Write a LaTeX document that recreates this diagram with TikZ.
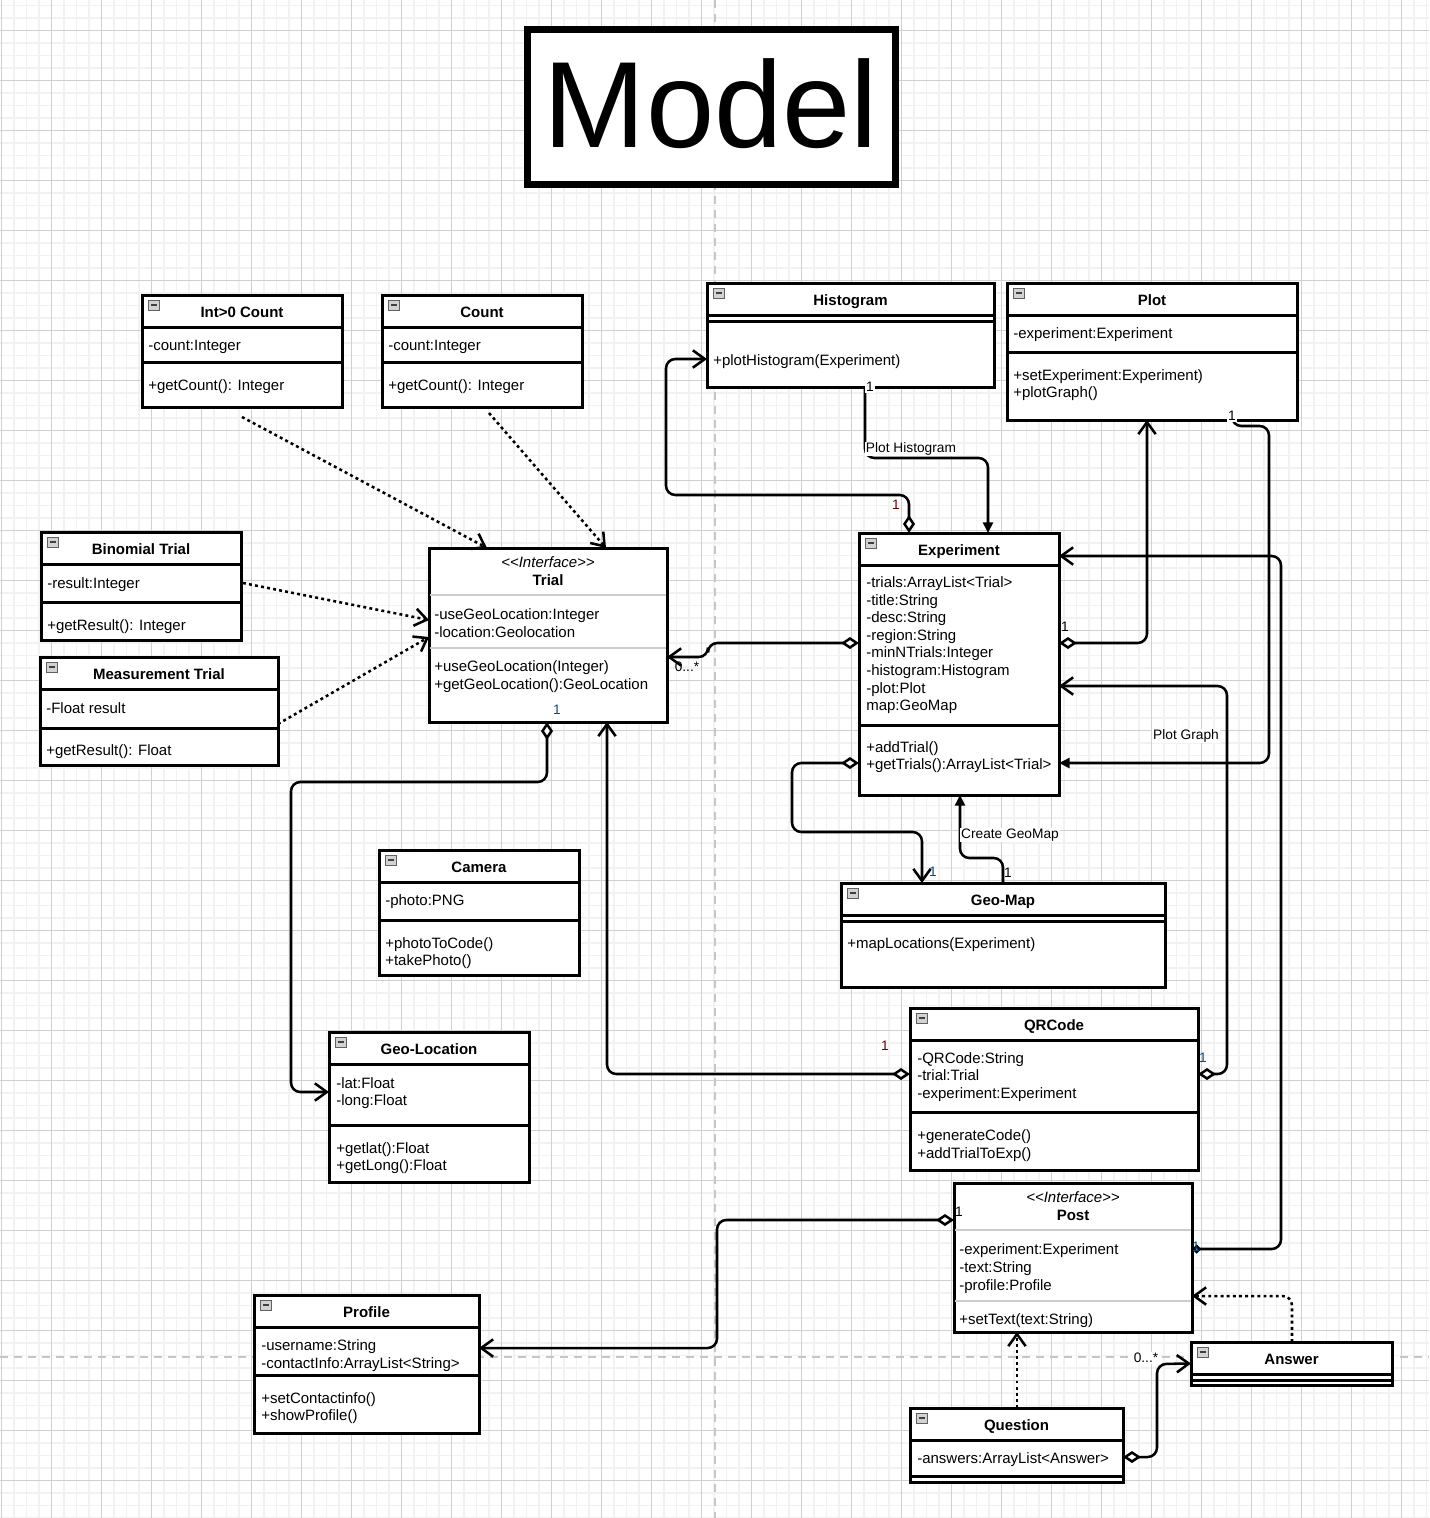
\documentclass[tikz,border=0pt]{standalone}
\usepackage{fontspec}
\setmainfont{Liberation Sans}
\usetikzlibrary{arrows.meta,calc}
\definecolor{lblue}{RGB}{0,75,140}
\definecolor{lmaroon}{RGB}{110,0,0}
\definecolor{gmin}{RGB}{242,242,242}
\definecolor{gmaj}{RGB}{208,208,208}
\newcommand\umlicon[2]{%
  \draw[draw=gray!75!black, fill=gray!35, line width=0.6pt] (#1+6,#2+5) rectangle ++(11,10);
  \draw[line width=1pt, black!75] (#1+8.5,#2+10) -- ++(6,0);}
\newcommand\umlclass[6]{%
  \node[umlbox, minimum width={(#4-#2)*0.75pt}, minimum height={(#5-#3)*0.75pt}] (#1) at ({(#2+#4)/2},{(#3+#5)/2}) {};
  \draw[boxline] (#2,#3+32) -- (#4,#3+32);
  \node[ttl] at ({(#2+#4)/2},#3+16) {#6};
  \umlicon{#2}{#3}}
\newcommand\umliface[6]{%
  \node[umlbox, minimum width={(#4-#2)*0.75pt}, minimum height={(#5-#3)*0.75pt}] (#1) at ({(#2+#4)/2},{(#3+#5)/2}) {};
  \node[tx, anchor=center, font=\itshape\fontsize{11.25}{13}\selectfont] at ({(#2+#4)/2},#3+13) {<{}<Interface>{}>};
  \node[ttl] at ({(#2+#4)/2},#3+31) {#6};}
\begin{document}
\begin{tikzpicture}[x=0.75pt,y=-0.75pt,
  umlbox/.style={draw, line width=2.25pt, fill=white, inner sep=0pt, outer sep=0pt},
  boxline/.style={line width=2.25pt},
  thinline/.style={line width=1.1pt, draw=gray!40},
  tx/.style={font=\fontsize{11.25}{13}\selectfont, inner sep=0pt, anchor=west, text height=11pt, text depth=2pt},
  ttl/.style={font=\bfseries\fontsize{11.25}{13}\selectfont, inner sep=0pt, text height=11pt, text depth=2pt},
  lbl/.style={font=\fontsize{10.3}{12}\selectfont, inner sep=0.8pt, fill=white},
  conn/.style={line width=1.9pt, rounded corners=7pt},
  dep/.style={line width=1.9pt, dash pattern=on 2.2pt off 2.4pt, arrows={-Straight Barb[length=9pt,width=13pt]}},
  assoc/.style={conn, arrows={-Straight Barb[length=9pt,width=13pt]}},
  aggr/.style={conn, arrows={Diamond[fill=white,length=13.5pt,width=9pt]-Straight Barb[length=9pt,width=13pt]}},
  filled/.style={conn, arrows={-Triangle[length=8pt,width=7.5pt]}},
  smallagg/.style={conn, arrows={Diamond[fill=white,length=7pt,width=7pt]-Straight Barb[length=9pt,width=13pt]}},
]
\useasboundingbox (0,0) rectangle (1429,1518);
\fill[white] (0,0) rectangle (1429,1518);
% grid
\foreach \i in {0,...,114} {\draw[gmin, line width=1.1pt] ({1.7+12.5*\i},0) -- ({1.7+12.5*\i},1518);}
\foreach \i in {0,...,121} {\draw[gmin, line width=1.1pt] (0,{5.7+12.5*\i}) -- (1429,{5.7+12.5*\i});}
\foreach \i in {0,...,28} {\draw[gmaj, line width=0.75pt] ({1.7+50*\i},0) -- ({1.7+50*\i},1518);}
\foreach \i in {0,...,29} {\draw[gmaj, line width=0.75pt] (0,{30.7+50*\i}) -- (1429,{30.7+50*\i});}
% page breaks
\draw[gray!45, line width=1.5pt, dash pattern=on 6pt off 4.5pt] (715,0) -- (715,1518);
\draw[gray!45, line width=1.5pt, dash pattern=on 6pt off 4.5pt] (0,1357) -- (1429,1357);

% title
\node[draw, line width=5.25pt, fill=white, inner sep=0pt, minimum width={368*0.75pt}, minimum height={155*0.75pt}] (title) at (711,106.5) {};
\node[inner sep=0pt, font=\fontsize{92}{96}\selectfont] (titletxt) at (711,104) {Model};

% classes
\umlclass{int0}{142}{295}{342}{407}{Int>0 Count}
\draw[boxline] (142,362) -- (342,362);
\node[tx] at (148,344) {-count:Integer};
\node[tx] at (148,384) {+getCount(): Integer};

\umlclass{count}{382}{295}{582}{407}{Count}
\draw[boxline] (382,362) -- (582,362);
\node[tx] at (388,344) {-count:Integer};
\node[tx] at (388,384) {+getCount(): Integer};

\umlclass{binom}{41}{532}{241}{640}{Binomial Trial}
\draw[boxline] (41,602) -- (241,602);
\node[tx] at (47,582) {-result:Integer};
\node[tx] at (47,624) {+getResult(): Integer};

\umlclass{meas}{40}{657}{278}{765}{Measurement Trial}
\draw[boxline] (40,728) -- (278,728);
\node[tx] at (46,707) {-Float result};
\node[tx] at (46,749) {+getResult(): Float};

\umliface{trial}{429}{548}{667}{722}{Trial}
\draw[thinline] (430,595) -- (666,595);
\draw[thinline] (430,648) -- (666,648);
\node[tx] at (434,613) {-useGeoLocation:Integer};
\node[tx] at (434,631) {-location:Geolocation};
\node[tx] at (434,665) {+useGeoLocation(Integer)};
\node[tx] at (434,683) {+getGeoLocation():GeoLocation};

\umlclass{hist}{707}{283}{994}{387}{Histogram}
\draw[boxline] (707,321) -- (994,321);
\node[tx] at (713,359) {+plotHistogram(Experiment)};

\umlclass{plot}{1007}{283}{1297}{420}{Plot}
\draw[boxline] (1007,352) -- (1297,352);
\node[tx] at (1013,332) {-experiment:Experiment};
\node[tx] at (1013,374) {+setExperiment:Experiment)};
\node[tx] at (1013,391) {+plotGraph()};

\umlclass{exp}{859}{533}{1059}{795}{Experiment}
\draw[boxline] (859,725) -- (1059,725);
\node[tx] at (866,581) {-trials:ArrayList<Trial>};
\node[tx] at (866,599) {-title:String};
\node[tx] at (866,616) {-desc:String};
\node[tx] at (866,634) {-region:String};
\node[tx] at (866,651) {-minNTrials:Integer};
\node[tx] at (866,669) {-histogram:Histogram};
\node[tx] at (866,687) {-plot:Plot};
\node[tx] at (866,704) {map:GeoMap};
\node[tx] at (866,746) {+addTrial()};
\node[tx] at (866,763) {+getTrials():ArrayList<Trial>};

\umlclass{geomap}{841}{883}{1165}{987}{Geo-Map}
\draw[boxline] (841,921) -- (1165,921);
\node[tx] at (847,942) {+mapLocations(Experiment)};

\umlclass{camera}{379}{850}{579}{975}{Camera}
\draw[boxline] (379,920) -- (579,920);
\node[tx] at (385,899) {-photo:PNG};
\node[tx] at (385,942) {+photoToCode()};
\node[tx] at (385,959) {+takePhoto()};

\umlclass{geoloc}{329}{1032}{529}{1182}{Geo-Location}
\draw[boxline] (329,1125) -- (529,1125);
\node[tx] at (336,1082) {-lat:Float};
\node[tx] at (336,1099) {-long:Float};
\node[tx] at (336,1147) {+getlat():Float};
\node[tx] at (336,1164) {+getLong():Float};

\umlclass{qr}{910}{1008}{1198}{1170}{QRCode}
\draw[boxline] (910,1112) -- (1198,1112);
\node[tx] at (917,1057) {-QRCode:String};
\node[tx] at (917,1074) {-trial:Trial};
\node[tx] at (917,1092) {-experiment:Experiment};
\node[tx] at (917,1134) {+generateCode()};
\node[tx] at (917,1152) {+addTrialToExp()};

\umliface{post}{954}{1183}{1192}{1332}{Post}
\draw[thinline] (955,1230) -- (1191,1230);
\draw[thinline] (955,1301) -- (1191,1301);
\node[tx] at (959,1248) {-experiment:Experiment};
\node[tx] at (959,1266) {-text:String};
\node[tx] at (959,1284) {-profile:Profile};
\node[tx] at (959,1318) {+setText(text:String)};

\umlclass{profile}{254}{1295}{479}{1433}{Profile}
\draw[boxline] (254,1375) -- (479,1375);
\node[tx] at (261,1344) {-username:String};
\node[tx] at (261,1362) {-contactInfo:ArrayList<String>};
\node[tx] at (261,1397) {+setContactinfo()};
\node[tx] at (261,1414) {+showProfile()};

\umlclass{answer}{1191}{1342}{1392}{1385}{Answer}
\draw[boxline] (1191,1380) -- (1392,1380);

\umlclass{question}{910}{1408}{1123}{1482}{Question}
\draw[boxline] (910,1476) -- (1123,1476);
\node[tx] at (917,1457) {-answers:ArrayList<Answer>};

% realizations (dotted)
\draw[dep] ($(int0.south)+(0,10)$) -- ($(trial.north west)+(58,0)$);
\draw[dep] ($(count.south)+(7,6)$) -- ($(trial.north west)+(177,0)$);
\draw[dep] ($(binom.east)+(2,-3)$) -- ($(trial.west)+(0,-15)$);
\draw[dep] ($(meas.east)+(0,13)$) -- ($(trial.west)+(0,2)$);
\draw[dep, rounded corners=7pt] ($(question.north)+(0.5,0)$) -- ($(post.south west)+(63,0)$);
\draw[dep, rounded corners=7pt] ($(answer.north)+(0.5,0)$) -- (1292,1296) -- ($(post.east)+(0,38.5)$);

% associations
\draw[aggr] ($(exp.west)+(0,-21)$) -- (708,643) -- (708,657) -- ($(trial.east)+(0,22)$);
\node[lbl, fill=none] (l0a) at (687,667) {0...*};

\draw[aggr] ($(exp.north west)+(50,0)$) -- (909,495) -- (666,495) -- (666,359) -- ($(hist.west)+(0,24)$);
\node[lbl, fill=none, text=lmaroon] (l1a) at (896,505) {1};

\draw[filled] ($(hist.south)+(14.5,0)$) -- (865,458) -- (988,458) -- ($(exp.north west)+(129,0)$);
\node[lbl] (l1b) at (870,387) {1};
\node[lbl] (lph) at (911,449) {Plot Histogram};

\draw[aggr] ($(exp.east)+(0,-21)$) -- (1147,643) -- ($(plot.south)+(-5,0)$);
\node[lbl, fill=none] (l1c) at (1065,627) {1};

\draw[filled] ($(plot.south east)+(-65,0)$) -- (1232,426) -- (1269,426) -- (1269,763) -- ($(exp.east)+(0,99)$);
\node[lbl] (l1d) at (1232,416) {1};
\node[lbl] (lpg) at (1186,736) {Plot Graph};

\draw[smallagg] ($(post.east)+(0,-8.5)$) -- (1281,1249) -- (1281,556) -- ($(exp.north east)+(0,23)$);
\node[lbl, fill=none, text=lblue] (l1e) at (1196,1247) {1};

\draw[aggr] ($(qr.east)+(0,-15)$) -- (1227,1074) -- (1227,686) -- ($(exp.east)+(0,22)$);
\node[lbl, fill=none, text=lblue] (l1f) at (1203,1058) {1};

\draw[aggr] ($(qr.west)+(0,-15)$) -- (607,1074) -- ($(trial.south west)+(178,0)$);
\node[lbl, fill=none, text=lmaroon] (l1g) at (885,1046) {1};

\draw[aggr] ($(trial.south west)+(118,0)$) -- (547,782) -- (291,782) -- (291,1092) -- ($(geoloc.west)+(0,-15)$);
\node[lbl, fill=none, text=lblue] (l1h) at (557,710) {1};

\draw[aggr] ($(exp.west)+(0,99)$) -- (792,763) -- (792,832) -- (922,832) -- ($(geomap.north west)+(81,0)$);
\node[lbl, fill=none, text=lblue] (l1i) at (933,872) {1};

\draw[filled] ($(geomap.north west)+(162,0)$) -- (1003,858) -- (960,858) -- ($(exp.south west)+(101,0)$);
\node[lbl, fill=none] (l1j) at (1008,873) {1};
\node[lbl] (lcg) at (1010,835) {Create GeoMap};

\draw[aggr] ($(post.west)+(0,-37.5)$) -- (717,1220) -- (717,1348) -- ($(profile.east)+(0,-16)$);
\node[lbl, fill=none] (l1k) at (959,1212) {1};

\draw[aggr] ($(question.east)+(0,12)$) -- (1157,1457) -- (1157,1364) -- (answer.west);
\node[lbl] (l0b) at (1146,1358) {0...*};
\end{tikzpicture}
\end{document}
